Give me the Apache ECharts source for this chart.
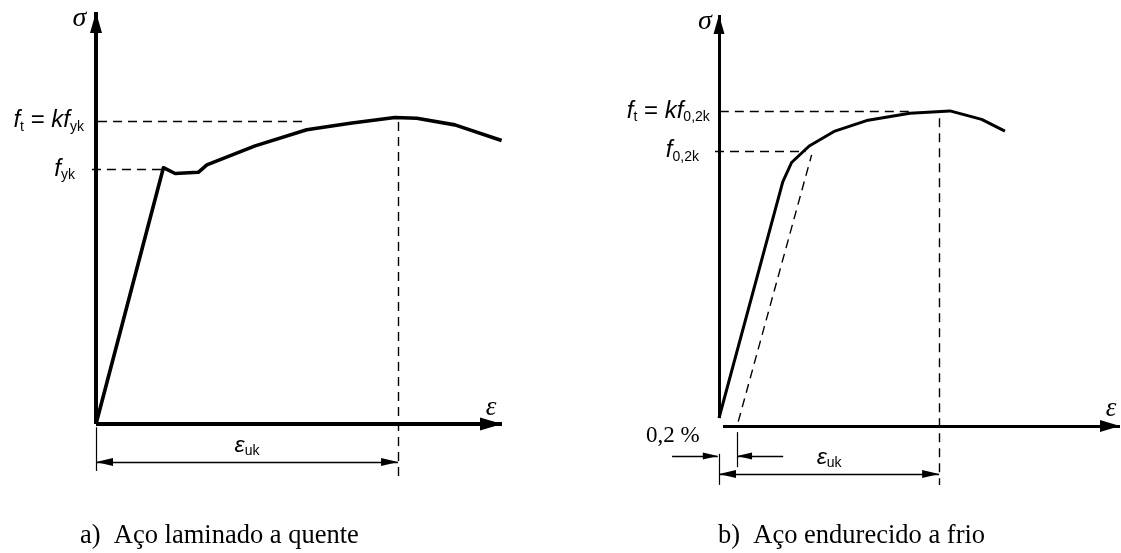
<!DOCTYPE html>
<html><head><meta charset="utf-8">
<script src="https://cdn.jsdelivr.net/npm/echarts@6/dist/echarts.min.js"></script>
<style>html,body{margin:0;padding:0;background:#fff}#c{width:1121px;height:553px}</style>
</head><body><div id="c"></div>
<script>
// ---------------- data (dimensionless, % of axis length) ----------------
// a) hot-rolled steel
const strainA = [0, 16.6, 19.5, 25.2, 27.3, 39.2, 51.9, 62.6, 73.6, 79.0, 88.4, 99.9];
const stressA = [0, 62.2, 60.8, 61.1, 62.9, 67.5, 71.4, 73.0, 74.4, 74.2, 72.6, 68.8];
const fykA = 61.9, ftA = 73.6, eukA = 74.4, fykStrainA = 16.6, ftDashEndA = 51.9;
// b) cold-worked steel
const strainB = [0, 15.9, 18.1, 22.5, 28.9, 36.8, 47.6, 57.6, 65.5, 71.3];
const stressB = [0, 58.6, 63.4, 67.5, 71.2, 73.8, 75.6, 76.2, 74.1, 71.2];
const offsetStrainB = [4.8, 23.1];
const offsetStressB = [-0.9, 65.3];
const f02B = 66.3, ftB = 76.2, eukB = 54.9, offsetB = 4.5, f02DashEndB = 21.6, ftDashEndB = 48.1;
// texts
const captions = ['a)  Aço laminado a quente', 'b)  Aço endurecido a frio'];
const axisNames = ['σ', 'ε'];
const labelsA = ['{f|f}{s|t}{n| = }{f|kf}{s|yk}', '{f|f}{s|yk}'];
const labelsB = ['{f|f}{s|t}{n| = }{f|kf}{s|0,2k}', '{f|f}{s|0,2k}'];
const eukText = '{e|ε}{s|uk}';
const pctText = '0,2 %';

// ---------------- styling helpers ----------------
const BLACK = '#000';
const rich = {
  f: { fontFamily: 'Liberation Sans', fontStyle: 'italic', fontSize: 24, lineHeight: 26, color: BLACK },
  n: { fontFamily: 'Liberation Sans', fontSize: 24, lineHeight: 26, color: BLACK },
  s: { fontFamily: 'Liberation Sans', fontSize: 14, lineHeight: 18, verticalAlign: 'bottom', color: BLACK },
  e: { fontFamily: 'Liberation Sans', fontStyle: 'italic', fontSize: 23, lineHeight: 24, color: BLACK },
  g: { fontFamily: 'Liberation Serif', fontStyle: 'italic', fontSize: 28, color: BLACK },
  h: { fontFamily: 'Liberation Serif', fontStyle: 'italic', fontSize: 27, color: BLACK },
  p: { fontFamily: 'Liberation Serif', fontSize: 23, color: BLACK }
};
function seg(p0, p1, o) {
  o = o || {};
  const a = { coord: p0, symbol: o.s0 ? 'triangle' : 'none',
    lineStyle: { color: BLACK, width: o.w || 1.4, type: o.dash ? [9, 6] : 'solid', cap: 'butt' },
    label: o.label || { show: false } };
  const b = { coord: p1, symbol: o.s1 ? 'triangle' : 'none' };
  if (o.s0) { a.symbolSize = o.s0; a.symbolOffset = [0, '50%']; }
  if (o.s1) { b.symbolSize = o.s1; b.symbolOffset = [0, '50%']; }
  return [a, b];
}
function startLabel(text, dist) {
  return { show: true, position: 'start', distance: dist, formatter: text, rich: rich, color: BLACK };
}
function midLabel(text, dist) {
  return { show: true, position: 'middle', distance: dist, formatter: text, rich: rich, color: BLACK };
}
function mp(coord, text) {
  return { coord: coord, symbol: 'circle', symbolSize: 1, itemStyle: { color: 'rgba(0,0,0,0)' },
    label: { show: true, position: 'inside', formatter: text, rich: rich, color: BLACK } };
}
function markLineOf(data) {
  return { silent: true, animation: false, symbol: 'none', symbolOffset: [[0, '50%'], [0, '50%']],
    label: { show: false }, emphasis: { disabled: true }, data: data };
}

const chart = echarts.init(document.getElementById('c'), null, { renderer: 'canvas' });
const AX = [13, 22], DIM = [8, 17], SM = [7, 15];

const option = {
  backgroundColor: '#fff',
  animation: false,
  title: [
    { text: captions[0], left: 80, top: 523, padding: 0,
      textStyle: { fontFamily: 'Liberation Serif', fontSize: 26.5, fontWeight: 'normal', color: BLACK } },
    { text: captions[1], left: 718, top: 523, padding: 0,
      textStyle: { fontFamily: 'Liberation Serif', fontSize: 26.5, fontWeight: 'normal', color: BLACK } }
  ],
  grid: [
    { left: 75.7, top: 12, width: 426.3, height: 494.4 },
    { left: 658.85, top: 15, width: 461.15, height: 483.6 }
  ],
  xAxis: [
    { gridIndex: 0, type: 'value', min: -5, max: 100, show: false },
    { gridIndex: 1, type: 'value', min: -15, max: 100, show: false }
  ],
  yAxis: [
    { gridIndex: 0, type: 'value', min: -20, max: 100, show: false },
    { gridIndex: 1, type: 'value', min: -20, max: 100, show: false }
  ],
  series: [
    {
      type: 'line', xAxisIndex: 0, yAxisIndex: 0, silent: true, symbol: 'none',
      data: strainA.map((x, i) => [x, stressA[i]]),
      lineStyle: { color: BLACK, width: 3.6, join: 'round' }, itemStyle: { color: BLACK },
      markLine: markLineOf([
        seg([0, 0], [0, 100], { w: 4, s1: [12, 21] }),
        seg([0, 0], [100, 0], { w: 4, s1: AX }),
        seg([-1, fykA], [fykStrainA, fykA], { dash: true, label: startLabel(labelsA[1], 17) }),
        seg([0.5, ftA], [ftDashEndA, ftA], { dash: true, label: startLabel(labelsA[0], 14) }),
        seg([eukA, 73.3], [eukA, -13.3], { dash: true }),
        seg([0, -0.8], [0, -11.4], { w: 1.2 }),
        seg([0, -9.2], [eukA, -9.2], { s0: DIM, s1: DIM, label: midLabel(eukText, 4) })
      ]),
      markPoint: { silent: true, animation: false, data: [
        mp([-4.1, 98.4], '{g|' + axisNames[0] + '}'),
        mp([97.3, 3.9], '{h|' + axisNames[1] + '}')
      ] }
    },
    {
      type: 'line', xAxisIndex: 1, yAxisIndex: 1, silent: true, symbol: 'none',
      data: strainB.map((x, i) => [x, stressB[i]]),
      lineStyle: { color: BLACK, width: 3, join: 'round' }, itemStyle: { color: BLACK },
      markLine: markLineOf([
        seg([0, 0], [0, 100], { w: 3, s1: [11, 19] }),
        seg([1, -2], [100, -2], { w: 3, s1: [12, 20] }),
        seg([-1, f02B], [f02DashEndB, f02B], { dash: true, label: startLabel(labelsB[1], 16) }),
        seg([0.2, ftB], [ftDashEndB, ftB], { dash: true, label: startLabel(labelsB[0], 10) }),
        seg([eukB, 74.4], [eukB, -16.6], { dash: true }),
        seg([0, -8.9], [0, -16.6], { w: 1.2 }),
        seg([offsetB, -3.5], [offsetB, -12.2], { w: 1.2 }),
        seg([-11.7, -9.4], [-0.3, -9.4], { w: 1.4, s1: SM }),
        seg([16.0, -9.4], [offsetB, -9.4], { w: 1.4, s1: SM }),
        seg([0, -13.9], [eukB, -13.9], { s0: DIM, s1: DIM, label: midLabel(eukText, 4) })
      ]),
      markPoint: { silent: true, animation: false, data: [
        mp([-3.5, 98.3], '{g|' + axisNames[0] + '}'),
        mp([97.8, 2.2], '{h|' + axisNames[1] + '}'),
        mp([-11.5, -4.5], '{p|' + pctText + '}')
      ] }
    },
    {
      type: 'line', xAxisIndex: 1, yAxisIndex: 1, silent: true, symbol: 'none',
      data: offsetStrainB.map((x, i) => [x, offsetStressB[i]]),
      lineStyle: { color: BLACK, width: 1.4, type: [9, 6] }, itemStyle: { color: BLACK }
    }
  ]
};
chart.setOption(option);
</script>
</body></html>
